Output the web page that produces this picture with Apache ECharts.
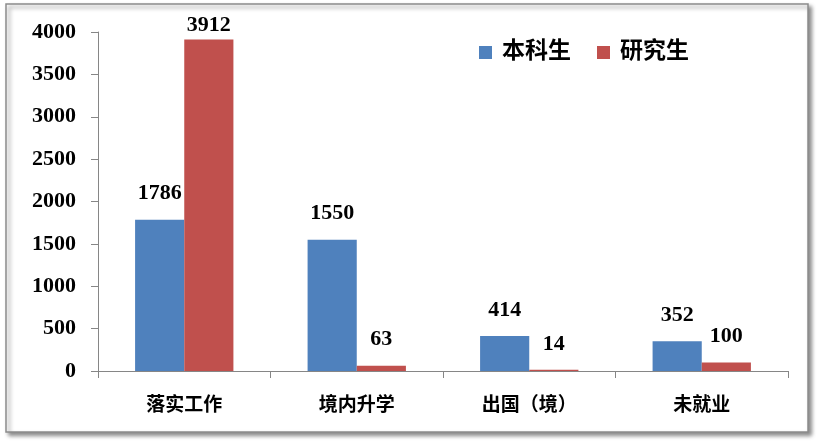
<!DOCTYPE html>
<html><head><meta charset="utf-8">
<script src="https://cdn.jsdelivr.net/npm/echarts@6/dist/echarts.min.js"></script>
<style>html,body{margin:0;padding:0;background:#fff}#c{width:820px;height:441px}</style>
</head><body><div id="c"></div>
<script>
const categories = ['落实工作', '境内升学', '出国（境）', '未就业'];
const undergrad = [1786, 1550, 414, 352];
const graduate = [3912, 63, 14, 100];
const yTicks = [0, 500, 1000, 1500, 2000, 2500, 3000, 3500, 4000];

const numFont = '"Liberation Serif", serif';
const cjkFont = '"Liberation Serif", "Noto Sans CJK SC", serif';
const chart = echarts.init(document.getElementById('c'));
const labelStyle = {show: true, position: 'top', distance: 15, color: '#000', fontFamily: numFont, fontWeight: 'bold', fontSize: 22};
chart.setOption({
  animation: false,
  graphic: [{type: 'rect', shape: {x: 6, y: 4, width: 802, height: 428}, style: {fill: '#fff', stroke: '#8c8c8c', lineWidth: 1.5, shadowBlur: 4, shadowOffsetX: 3, shadowOffsetY: 3, shadowColor: 'rgba(0,0,0,0.45)'}, z: -10}],
  grid: {left: 98, right: 32, top: 32, bottom: 70},
  legend: {top: 36, left: 474, itemWidth: 13, itemHeight: 13, itemGap: 26, icon: 'rect',
    textStyle: {fontFamily: cjkFont, fontWeight: 'bold', fontSize: 23, color: '#000', padding: [0, 0, 0, 5]},
    data: ['本科生', '研究生']},
  xAxis: {type: 'category', data: categories,
    axisLine: {lineStyle: {color: '#868686', width: 1}},
    axisTick: {show: true, length: 7, lineStyle: {color: '#868686'}},
    axisLabel: {margin: 26, color: '#000', fontFamily: cjkFont, fontWeight: 'bold', fontSize: 19}},
  yAxis: {type: 'value', min: 0, max: 4000, interval: 500,
    splitLine: {show: false},
    axisLine: {show: true, lineStyle: {color: '#868686', width: 1}},
    axisTick: {show: true, length: 7, lineStyle: {color: '#868686'}},
    axisLabel: {margin: 22, color: '#000', fontFamily: numFont, fontWeight: 'bold', fontSize: 22,
      formatter: v => yTicks.includes(v) ? String(v) : ''}},
  series: [
    {name: '本科生', type: 'bar', data: undergrad, barGap: '0%', barCategoryGap: '43%',
      itemStyle: {color: '#4f81bd'}, label: labelStyle},
    {name: '研究生', type: 'bar', data: graduate.map((v, i) => i === 0 ? {value: v, label: {distance: 3}} : v),
      itemStyle: {color: '#c0504d'}, label: labelStyle}
  ]
});
</script></body></html>
